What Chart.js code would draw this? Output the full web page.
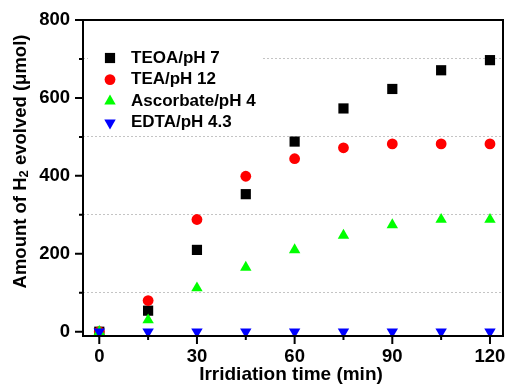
<!DOCTYPE html>
<html>
<head>
<meta charset="utf-8">
<script src="https://cdn.jsdelivr.net/npm/chart.js@4/dist/chart.umd.min.js"></script>
<style>
  html, body { margin: 0; padding: 0; background: #fff; }
  #wrap { width: 506px; height: 385px; }
</style>
</head>
<body>
<div id="wrap"><canvas id="chart"></canvas></div>
<script>
// DATA
const times = [0, 15, 30, 45, 60, 75, 90, 105, 120];
const teoa = [0, 54, 210, 353, 488, 573, 623, 671, 697];
const tea = [0, 80, 288, 399, 444, 472, 482, 482, 482];
const ascorbate = [0, 30, 112, 165, 210, 247, 274, 288, 288];
const edta = [0, 0, 0, 0, 0, 0, 0, 0, 0];
const seriesLabels = ["TEOA/pH 7", "TEA/pH 12", "Ascorbate/pH 4", "EDTA/pH 4.3"];

const xTicks = [0, 30, 60, 90, 120];
const xMinor = [15, 45, 75, 105];
const yTicks = [0, 200, 400, 600, 800];
const yMinor = [100, 300, 500, 700];

const FONT = "'Liberation Sans', Arial, sans-serif";

const pts = (ys) => times.map((t, i) => ({ x: t, y: ys[i] }));

// frame, tick marks, legend and axis titles
const decorations = {
  id: "decorations",
  beforeDatasetsDraw(chart) {
    // white legend box hides the grid behind it
    const ctx = chart.ctx;
    ctx.save();
    ctx.fillStyle = "#fff";
    ctx.fillRect(88, 42, 174, 92);
    ctx.restore();
  },
  afterDatasetsDraw(chart) {
    const { ctx, chartArea: a, scales } = chart;
    const x = scales.x, y = scales.y;
    ctx.save();
    ctx.strokeStyle = "#000";
    ctx.lineWidth = 2;
    ctx.strokeRect(a.left, a.top, a.right - a.left, a.bottom - a.top);

    ctx.beginPath();
    xTicks.forEach(v => { const p = x.getPixelForValue(v); ctx.moveTo(p, a.bottom); ctx.lineTo(p, a.bottom + 8); });
    xMinor.forEach(v => { const p = x.getPixelForValue(v); ctx.moveTo(p, a.bottom); ctx.lineTo(p, a.bottom + 4); });
    yTicks.forEach(v => { const p = y.getPixelForValue(v); ctx.moveTo(a.left, p); ctx.lineTo(a.left - 8, p); });
    yMinor.forEach(v => { const p = y.getPixelForValue(v); ctx.moveTo(a.left, p); ctx.lineTo(a.left - 4, p); });
    ctx.stroke();

    // legend
    ctx.font = "bold 17px " + FONT;
    ctx.textBaseline = "middle";
    ctx.textAlign = "left";
    chart.data.datasets.forEach((ds, i) => {
      const ly = 58 + i * 21.6;
      ctx.fillStyle = ds.backgroundColor;
      Chart.helpers.drawPoint(ctx, { pointStyle: ds.pointStyle, radius: ds.pointRadius, rotation: ds.pointRotation || 0, borderWidth: 0 }, 110, ly);
      ctx.fillStyle = "#000";
      ctx.fillText(seriesLabels[i], 131, ly);
    });

    // x title
    ctx.font = "bold 19px " + FONT;
    ctx.textAlign = "center";
    ctx.fillText("Irridiation time (min)", 291, 375);

    // y title with subscript
    const big = "bold 18.5px " + FONT, small = "bold 13px " + FONT;
    const parts = [["Amount of H", big, 0], ["2", small, 4], [" evolved (\u03bcmol)", big, 0]];
    let total = 0;
    parts.forEach(p => { ctx.font = p[1]; total += ctx.measureText(p[0]).width; });
    ctx.translate(20.5, 161.5);
    ctx.rotate(-Math.PI / 2);
    ctx.textAlign = "left";
    let cx = -total / 2;
    parts.forEach(p => {
      ctx.font = p[1];
      ctx.fillText(p[0], cx, p[2]);
      cx += ctx.measureText(p[0]).width;
    });
    ctx.restore();
  }
};

const config = {
  type: "scatter",
  data: {
    datasets: [
      { label: seriesLabels[0], data: pts(teoa), backgroundColor: "#000000", pointStyle: "rect", pointRadius: 7.2, order: 4 },
      { label: seriesLabels[1], data: pts(tea), backgroundColor: "#ff0000", pointStyle: "circle", pointRadius: 5.4, order: 3 },
      { label: seriesLabels[2], data: pts(ascorbate), backgroundColor: "#00ff00", pointStyle: "triangle", pointRadius: 6.6, order: 2 },
      { label: seriesLabels[3], data: pts(edta), backgroundColor: "#0000ff", pointStyle: "triangle", pointRotation: 180, pointRadius: 6.6, order: 1 },
    ].map(d => Object.assign(d, { borderWidth: 0, pointBorderWidth: 0, pointHoverRadius: d.pointRadius, clip: false })),
  },
  options: {
    responsive: true,
    maintainAspectRatio: false,
    animation: false,
    layout: {
      autoPadding: false,
      padding: { left: 0, top: 20, right: 3, bottom: 0 },
    },
    scales: {
      x: {
        type: "linear",
        min: -5,
        max: 124,
        afterBuildTicks: s => { s.ticks = xTicks.map(v => ({ value: v })); },
        afterFit: s => { s.height = 49; s.paddingLeft = 0; s.paddingRight = 0; },
        grid: { display: false, drawTicks: false },
        border: { display: false },
        ticks: { color: "#000", padding: 10, font: { family: FONT, size: 18.5, weight: "bold" } },
      },
      y: {
        type: "linear",
        min: -11,
        max: 800,
        afterBuildTicks: s => { s.ticks = yTicks.concat(yMinor).sort((a, b) => a - b).map(v => ({ value: v })); },
        afterFit: s => { s.width = 83; s.paddingTop = 0; s.paddingBottom = 0; },
        grid: {
          drawTicks: false,
          lineWidth: 1,
          color: c => (c.tick && c.tick.value % 200 !== 0) ? "#c4c4c4" : "rgba(0,0,0,0)",
        },
        border: { display: false, dash: [2, 2] },
        ticks: {
          color: "#000",
          padding: 13,
          font: { family: FONT, size: 18.5, weight: "bold" },
          callback: v => (v % 200 === 0 ? String(v) : ""),
        },
      },
    },
    plugins: {
      legend: { display: false },
      tooltip: { enabled: false },
    },
  },
  plugins: [decorations],
};

const chart = new Chart(document.getElementById("chart"), config);
</script>
</body>
</html>
